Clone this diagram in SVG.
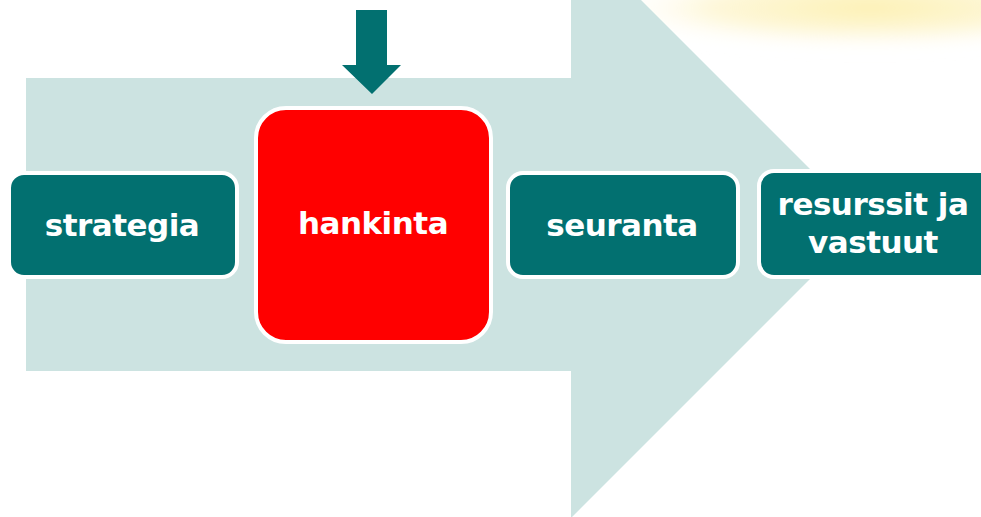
<svg xmlns="http://www.w3.org/2000/svg" width="981" height="517" viewBox="0 0 981 517">
  <defs>
    <radialGradient id="glow" cx="0.5" cy="0.5" r="0.5">
      <stop offset="0" stop-color="#fdf0b0" stop-opacity="1"/>
      <stop offset="0.6" stop-color="#fdf4c8" stop-opacity="0.7"/>
      <stop offset="1" stop-color="#ffffff" stop-opacity="0"/>
    </radialGradient>
    <filter id="blur" x="-20%" y="-50%" width="140%" height="200%">
      <feGaussianBlur stdDeviation="8"/>
    </filter>
  </defs>
  <style>
    .box { fill: #027070; stroke: #ffffff; stroke-width: 4; }
    .red { fill: #ff0000; stroke: #ffffff; stroke-width: 4; }
    .lbl { fill: #ffffff; font-family: "DejaVu Sans", Verdana, sans-serif; font-weight: bold; font-size: 31px; letter-spacing: -0.5px; text-anchor: middle; }
  </style>
  <rect x="0" y="0" width="981" height="517" fill="#ffffff"/>
  <ellipse cx="870" cy="8" rx="270" ry="40" fill="url(#glow)" filter="url(#blur)"/>
  <g id="bigarrow">
    <polygon points="26,78 571,78 571,-70 865,224 571,518 571,371 26,371" fill="#cce3e1"/>
  </g>
  <g id="connectors">
    <polygon points="356,10 387,10 387,65 401,65 372,94 342,65 356,65" fill="#027070"/>
  </g>
  <g id="strategia">
    <rect class="box" x="9" y="173" width="228" height="104" rx="15"/>
    <text class="lbl" x="122" y="236">strategia</text>
  </g>
  <g id="hankinta">
    <rect class="red" x="256" y="108" width="235" height="234" rx="30"/>
    <text class="lbl" x="373" y="234">hankinta</text>
  </g>
  <g id="seuranta">
    <rect class="box" x="508" y="173" width="230" height="104" rx="15"/>
    <text class="lbl" x="622" y="236">seuranta</text>
  </g>
  <g id="resurssit">
    <rect class="box" x="759" y="171" width="240" height="106" rx="15"/>
    <text class="lbl" x="873" y="215">resurssit ja</text>
    <text class="lbl" x="873" y="253">vastuut</text>
  </g>
</svg>
